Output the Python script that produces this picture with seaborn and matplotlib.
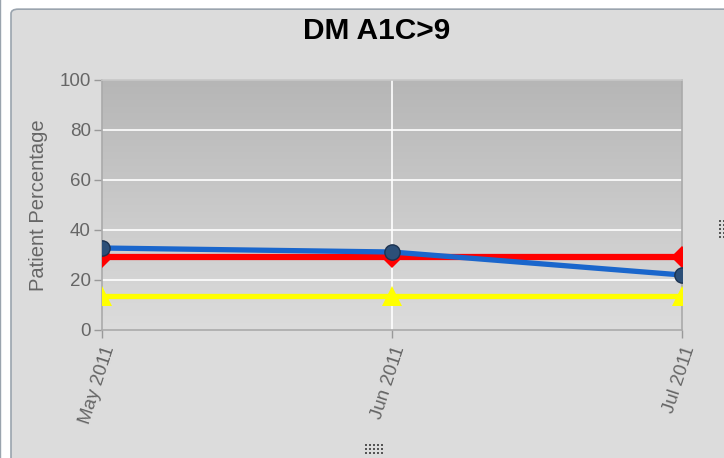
import numpy as np
import pandas as pd
import seaborn as sns
import matplotlib.pyplot as plt
from matplotlib.patches import FancyBboxPatch, Rectangle

# data
months = ["May 2011", "Jun 2011", "Jul 2011"]
blue_vals = [32.8, 31.2, 22.0]
red_vals = [29.2, 29.2, 29.2]
yellow_vals = [13.6, 13.6, 13.6]

df = pd.DataFrame({
    "month": list(range(len(months))) * 3,
    "value": blue_vals + red_vals + yellow_vals,
    "series": ["blue"] * 3 + ["red"] * 3 + ["yellow"] * 3,
})

sns.set_style("white")
plt.rcParams['font.family'] = ['Liberation Sans', 'DejaVu Sans']

fig = plt.figure(figsize=(7.24, 4.58), dpi=100)
fig.patch.set_facecolor("white")

W, H = 724, 458
# outer panel
fig.patches.append(FancyBboxPatch((11 / W, -0.1), 1.0, 1.08, boxstyle="round,pad=0,rounding_size=0.01",
                                  transform=fig.transFigure, facecolor="#dcdcdc",
                                  edgecolor="#9aa4ae", linewidth=1.2, zorder=-2))
fig.patches.append(Rectangle((-0.01, -0.1), 7 / W, 1.2, transform=fig.transFigure,
                             facecolor="#dcdcdc", edgecolor="#9aa4ae", linewidth=1.0, zorder=-2))
# little grip dots
for gx, gy, nx, ny in [(365, 446, 5, 3), (719, 222, 2, 5)]:
    for i in range(nx):
        for j in range(ny):
            fig.patches.append(Rectangle(((gx + 4 * i) / W, 1 - (gy + 4 * j) / H), 2 / W, 2 / H,
                                         transform=fig.transFigure, facecolor="#555555",
                                         edgecolor="none", zorder=-1))

ax = fig.add_axes([102 / W, 1 - 330 / H, 580 / W, 250 / H])
ax.set_facecolor("#dcdcdc")

# gradient background of the plot area
grad = np.linspace(0, 1, 256).reshape(-1, 1)
ax.imshow(grad, extent=[0, 2, 0, 100], aspect="auto", origin="lower",
          cmap=plt.matplotlib.colors.LinearSegmentedColormap.from_list("g", ["#dcdcdc", "#b6b6b6"]),
          zorder=0)

for y in [20, 40, 60, 80]:
    ax.axhline(y, color="white", lw=1.2, zorder=1)
ax.axvline(1, color="white", lw=1.2, zorder=1)

palette = {"blue": "#1a66cc", "red": "#ff0000", "yellow": "#ffff00"}
markers = {"blue": "o", "red": "D", "yellow": "^"}
sns.lineplot(data=df, x="month", y="value", hue="series", style="series",
             palette=palette, markers=markers, dashes=False, linewidth=3.8,
             markersize=11, legend=False, ax=ax, zorder=3)

# blue markers darker, like the shaded balls
for line in ax.get_lines():
    c = line.get_color()
    if c == "#1a66cc":
        line.set_markerfacecolor("#2c4f78")
        line.set_markeredgecolor("#1c3250")
        line.set_markeredgewidth(1.0)
        line.set_zorder(5)
    elif c == "#ff0000":
        line.set_markeredgewidth(0)
        line.set_linewidth(4.5)
    elif c == "#ffff00":
        line.set_markeredgewidth(0)
        line.set_markersize(14)

ax.set_xlim(0, 2)
ax.set_ylim(0, 100)
ax.set_xticks(range(len(months)))
ax.set_xticklabels(months, rotation=72, ha="right", va="top", rotation_mode="anchor")
ax.set_yticks([0, 20, 40, 60, 80, 100])
ax.tick_params(axis="both", colors="#999999", labelcolor="#666666", labelsize=13.5,
               length=6, width=1, direction="out", left=True, bottom=True, pad=2)
ax.tick_params(axis="x", pad=4)
ax.set_xlabel("")
ax.set_ylabel("Patient Percentage", color="#666666", fontsize=14.5, labelpad=8)
for s in ax.spines.values():
    s.set_color("#aaaaaa")
    s.set_linewidth(1.2)
ax.spines["top"].set_color("#c8c8c8")

fig.text(377 / W, 1 - 31 / H, "DM A1C>9", ha="center", va="center",
         fontsize=21.5, fontweight="bold", color="black")

fig.savefig("out.png", dpi=100, facecolor=fig.get_facecolor())
